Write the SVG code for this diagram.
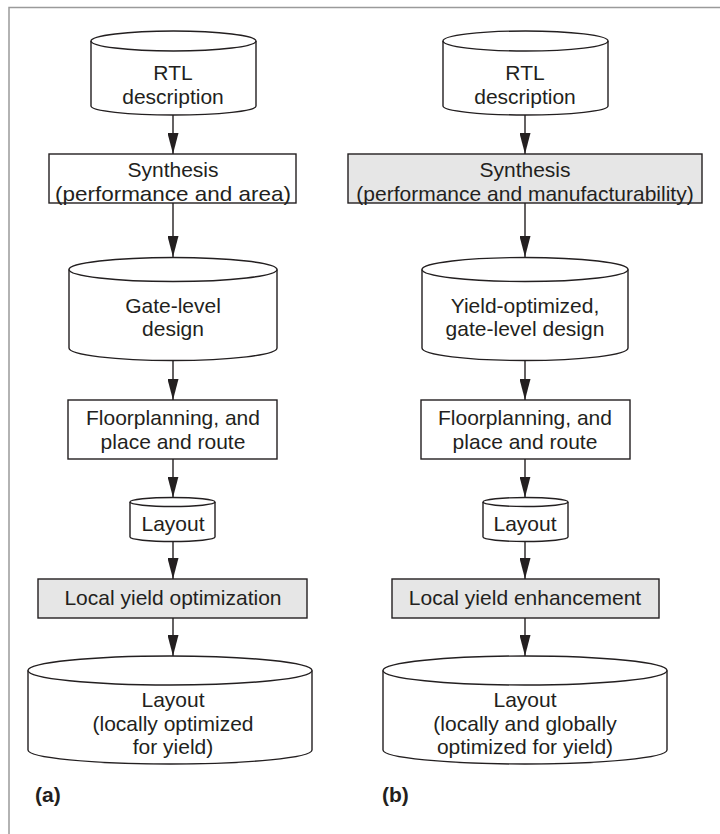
<svg xmlns="http://www.w3.org/2000/svg" width="720" height="834" viewBox="0 0 720 834">
<style>
.frame{fill:none;stroke:#9a9a9a;stroke-width:1.5}
.shape{fill:#fff;stroke:#231f20;stroke-width:1.4}
.gray{fill:#e6e6e6}
.arc{fill:none;stroke:#231f20;stroke-width:1.4}
.conn line{stroke:#231f20;stroke-width:1.4;marker-end:url(#ah)}
text{font-family:"Liberation Sans",Arial,Helvetica,sans-serif;font-size:21px;fill:#231f20;text-anchor:middle}
text.lbl{font-weight:bold;text-anchor:start}
</style>
<defs>
<marker id="ah" viewBox="0 0 21 11" refX="21" refY="5.5" markerWidth="21" markerHeight="11" markerUnits="userSpaceOnUse" orient="auto">
<path d="M0,0 L21,5.5 L0,11 Z" fill="#231f20"/>
</marker>
</defs>
<rect width="720" height="834" fill="#fff"/>
<path class="frame" d="M9,834 V7.5 H720"/>

<g id="a-rtl">
<path class="shape" d="M91,41 A82.5,10 0 0 1 256,41 V106 A82.5,9 0 0 1 91,106 Z"/>
<path class="arc" d="M91,41 A82.5,10 0 0 0 256,41"/>
<text x="173" y="80">RTL</text>
<text x="173" y="103.5">description</text>
</g>
<g id="a-synth">
<rect class="shape" x="49" y="154" width="247" height="49"/>
<text x="173" y="177">Synthesis</text>
<text x="173" y="200.5" textLength="236" lengthAdjust="spacingAndGlyphs">(performance and area)</text>
</g>
<g id="a-gate">
<path class="shape" d="M69,269.5 A104,12 0 0 1 277,269.5 V348 A104,12.5 0 0 1 69,348 Z"/>
<path class="arc" d="M69,269.5 A104,12 0 0 0 277,269.5"/>
<text x="173" y="312.5">Gate-level</text>
<text x="173" y="336">design</text>
</g>
<g id="a-floor">
<rect class="shape" x="68" y="400" width="209" height="59"/>
<text x="173" y="425">Floorplanning, and</text>
<text x="173" y="448.5">place and route</text>
</g>
<g id="a-layout">
<path class="shape" d="M130,502 A42.5,4.5 0 0 1 215,502 V537 A42.5,4.5 0 0 1 130,537 Z"/>
<path class="arc" d="M130,502 A42.5,4.5 0 0 0 215,502"/>
<text x="173" y="531">Layout</text>
</g>
<g id="a-local">
<rect class="shape gray" x="38" y="579" width="269" height="39"/>
<text x="173" y="605">Local yield optimization</text>
</g>
<g id="a-final">
<path class="shape" d="M28,670.5 A142,14.5 0 0 1 312,670.5 V750 A142,14 0 0 1 28,750 Z"/>
<path class="arc" d="M28,670.5 A142,14.5 0 0 0 312,670.5"/>
<text x="173" y="707">Layout</text>
<text x="173" y="730.5">(locally optimized</text>
<text x="173" y="754">for yield)</text>
</g>
<text class="lbl" x="35" y="802">(a)</text>

<g id="b-rtl">
<path class="shape" d="M443,41 A82.5,10 0 0 1 608,41 V106 A82.5,9 0 0 1 443,106 Z"/>
<path class="arc" d="M443,41 A82.5,10 0 0 0 608,41"/>
<text x="525" y="80">RTL</text>
<text x="525" y="103.5">description</text>
</g>
<g id="b-synth">
<rect class="shape gray" x="348" y="154" width="354" height="49"/>
<text x="525" y="177">Synthesis</text>
<text x="525" y="200.5">(performance and manufacturability)</text>
</g>
<g id="b-gate">
<path class="shape" d="M422,269.5 A103,12 0 0 1 628,269.5 V348 A103,12.5 0 0 1 422,348 Z"/>
<path class="arc" d="M422,269.5 A103,12 0 0 0 628,269.5"/>
<text x="525" y="312.5">Yield-optimized,</text>
<text x="525" y="336">gate-level design</text>
</g>
<g id="b-floor">
<rect class="shape" x="421" y="400" width="209" height="59"/>
<text x="525" y="425">Floorplanning, and</text>
<text x="525" y="448.5">place and route</text>
</g>
<g id="b-layout">
<path class="shape" d="M483,502 A42.5,4.5 0 0 1 568,502 V537 A42.5,4.5 0 0 1 483,537 Z"/>
<path class="arc" d="M483,502 A42.5,4.5 0 0 0 568,502"/>
<text x="525" y="531">Layout</text>
</g>
<g id="b-local">
<rect class="shape gray" x="392" y="579" width="267" height="39"/>
<text x="525" y="605">Local yield enhancement</text>
</g>
<g id="b-final">
<path class="shape" d="M383,670.5 A142,14.5 0 0 1 667,670.5 V750 A142,14 0 0 1 383,750 Z"/>
<path class="arc" d="M383,670.5 A142,14.5 0 0 0 667,670.5"/>
<text x="525" y="707">Layout</text>
<text x="525" y="730.5">(locally and globally</text>
<text x="525" y="754">optimized for yield)</text>
</g>
<text class="lbl" x="382" y="802">(b)</text>

<g id="connectors" class="conn">
<line x1="173" y1="115" x2="173" y2="154"/>
<line x1="173" y1="203" x2="173" y2="257"/>
<line x1="173" y1="360.5" x2="173" y2="400"/>
<line x1="173" y1="459" x2="173" y2="497.5"/>
<line x1="173" y1="541.5" x2="173" y2="579"/>
<line x1="173" y1="618" x2="173" y2="656"/>
<line x1="525" y1="115" x2="525" y2="154"/>
<line x1="525" y1="203" x2="525" y2="257"/>
<line x1="525" y1="360.5" x2="525" y2="400"/>
<line x1="525" y1="459" x2="525" y2="497.5"/>
<line x1="525" y1="541.5" x2="525" y2="579"/>
<line x1="525" y1="618" x2="525" y2="656"/>
</g>
</svg>
